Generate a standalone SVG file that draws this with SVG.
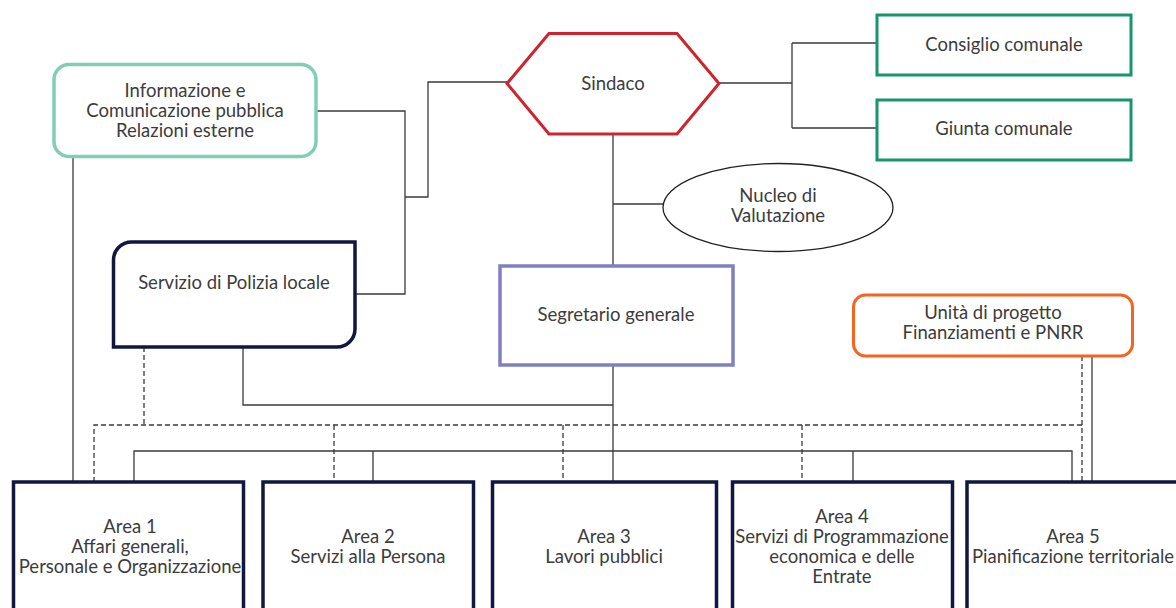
<svg xmlns="http://www.w3.org/2000/svg" width="1176" height="608" viewBox="0 0 1176 608">
<style>
  text { font-family: Lato, "Liberation Sans", sans-serif; font-size: 18.5px; fill: #3c3c3c; text-anchor: middle; }
  .ln { fill: none; stroke: #3a3a3a; stroke-width: 1.3; }
  .dsh { fill: none; stroke: #3a3a3a; stroke-width: 1.3; stroke-dasharray: 5 3; }
  .area { fill: #fff; stroke: #121740; stroke-width: 3.5; }
</style>
<rect width="1176" height="608" fill="#fff"/>
<g id="connectors">
  <path class="ln" d="M73,157 V482"/>
  <path class="ln" d="M316,111 H405 V294 H355"/>
  <path class="ln" d="M405,197 H428 V82 H507"/>
  <path class="ln" d="M719,83 H792 M792,43 V128 M792,43 H877 M792,128 H877"/>
  <path class="ln" d="M613,134 V266 M613,204 H663"/>
  <path class="ln" d="M613,365 V482"/>
  <path class="ln" d="M243,347 V405 H613"/>
  <path class="ln" d="M134,482 V451 H1072 V482 M373,451 V482 M853,451 V482"/>
  <path class="ln" d="M1092,356 V482"/>
  <path class="dsh" d="M144,347 V425"/>
  <path class="dsh" d="M94,482 V425 H1082"/>
  <path class="dsh" d="M334,425 V482 M563,425 V482 M802,425 V482"/>
  <path class="dsh" d="M1082,356 V482"/>
</g>
<g id="informazione">
  <rect x="54" y="64.5" width="262" height="92" rx="15" fill="#fff" stroke="#80cfb3" stroke-width="3.5"/>
  <text x="185" y="97">Informazione e</text>
  <text x="185" y="117">Comunicazione pubblica</text>
  <text x="185" y="137">Relazioni esterne</text>
</g>
<g id="sindaco">
  <polygon points="507,83.5 549,33.5 677,33.5 719,83.5 677,134 549,134" fill="#fff" stroke="#d0232d" stroke-width="3"/>
  <text x="613" y="89.5">Sindaco</text>
</g>
<g id="consiglio">
  <rect x="877" y="15" width="254" height="60" fill="#fff" stroke="#17966b" stroke-width="3"/>
  <text x="1004" y="51">Consiglio comunale</text>
</g>
<g id="giunta">
  <rect x="877" y="100" width="254" height="60" fill="#fff" stroke="#17966b" stroke-width="3"/>
  <text x="1004" y="135">Giunta comunale</text>
</g>
<g id="nucleo">
  <ellipse cx="778" cy="207.5" rx="115" ry="44" fill="#fff" stroke="#222" stroke-width="1.3"/>
  <text x="778" y="202">Nucleo di</text>
  <text x="778" y="222">Valutazione</text>
</g>
<g id="polizia">
  <path d="M113.5,260 A18,18 0 0 1 131.5,242 H355 V329 A18,18 0 0 1 337,347 H113.5 Z" fill="#fff" stroke="#121740" stroke-width="3.5"/>
  <text x="234" y="289">Servizio di Polizia locale</text>
</g>
<g id="segretario">
  <rect x="500" y="266" width="233" height="99" fill="#fff" stroke="#8080c0" stroke-width="3.5"/>
  <text x="616" y="321">Segretario generale</text>
</g>
<g id="unita">
  <rect x="853.5" y="295" width="279" height="61" rx="12" fill="#fff" stroke="#f26522" stroke-width="3"/>
  <text x="993" y="319">Unità di progetto</text>
  <text x="993" y="339">Finanziamenti e PNRR</text>
</g>
<g id="area1">
  <rect class="area" x="13.5" y="482" width="230" height="140"/>
  <text x="130" y="533">Area 1</text>
  <text x="130" y="553">Affari generali,</text>
  <text x="130" y="573">Personale e Organizzazione</text>
</g>
<g id="area2">
  <rect class="area" x="263" y="482" width="210.5" height="140"/>
  <text x="368" y="543">Area 2</text>
  <text x="368" y="563">Servizi alla Persona</text>
</g>
<g id="area3">
  <rect class="area" x="492.5" y="482" width="224" height="140"/>
  <text x="604" y="543">Area 3</text>
  <text x="604" y="563">Lavori pubblici</text>
</g>
<g id="area4">
  <rect class="area" x="732.5" y="482" width="220" height="140"/>
  <text x="842" y="523">Area 4</text>
  <text x="842" y="543">Servizi di Programmazione</text>
  <text x="842" y="563">economica e delle</text>
  <text x="842" y="583">Entrate</text>
</g>
<g id="area5">
  <rect class="area" x="967" y="482" width="212" height="140"/>
  <text x="1073" y="543">Area 5</text>
  <text x="1073" y="563">Pianificazione territoriale</text>
</g>
</svg>
